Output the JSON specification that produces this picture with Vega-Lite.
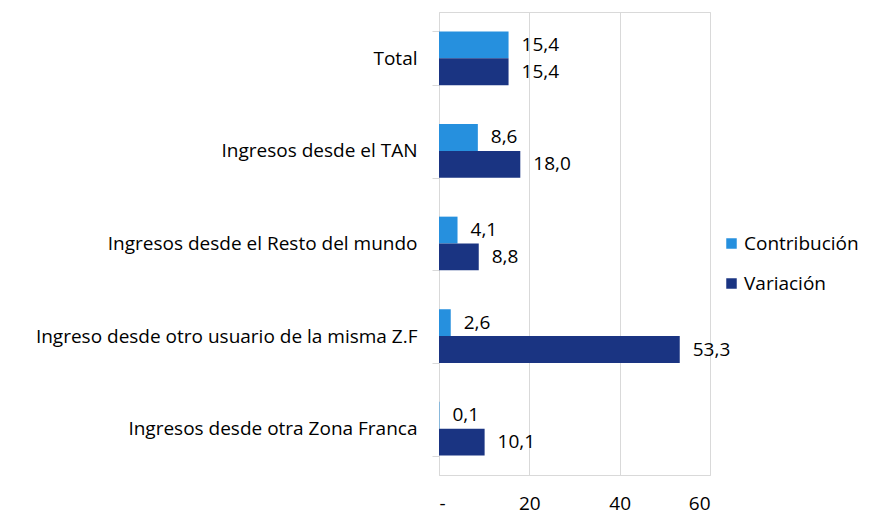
{
  "$schema": "https://vega.github.io/schema/vega-lite/v6.json",
  "width": 271,
  "height": 463,
  "autosize": {"type": "none"},
  "padding": {"left": 439, "top": 12, "right": 164, "bottom": 41},
  "background": "white",
  "config": {
    "font": "Open Sans",
    "view": {"stroke": "#d9d9d9", "strokeWidth": 1}
  },
  "data": {
    "values": [
      {"cat": "Total", "serie": "Contribución", "valor": 15.4},
      {"cat": "Total", "serie": "Variación", "valor": 15.4},
      {"cat": "Ingresos desde el TAN", "serie": "Contribución", "valor": 8.6},
      {"cat": "Ingresos desde el TAN", "serie": "Variación", "valor": 18.0},
      {"cat": "Ingresos desde el Resto del mundo", "serie": "Contribución", "valor": 4.1},
      {"cat": "Ingresos desde el Resto del mundo", "serie": "Variación", "valor": 8.8},
      {"cat": "Ingreso desde otro usuario de la misma Z.F", "serie": "Contribución", "valor": 2.6},
      {"cat": "Ingreso desde otro usuario de la misma Z.F", "serie": "Variación", "valor": 53.3},
      {"cat": "Ingresos desde otra Zona Franca", "serie": "Contribución", "valor": 0.1},
      {"cat": "Ingresos desde otra Zona Franca", "serie": "Variación", "valor": 10.1}
    ]
  },
  "encoding": {
    "y": {
      "field": "cat",
      "type": "nominal",
      "sort": null,
      "scale": {"paddingInner": 0.42, "paddingOuter": 0.21},
      "axis": {
        "title": null,
        "tickBand": "extent",
        "domainColor": "#d9d9d9",
        "tickColor": "#d9d9d9",
        "tickSize": 7,
        "labelPadding": 15,
        "labelFontSize": 19,
        "labelColor": "#000000",
        "labelLimit": 440
      }
    },
    "yOffset": {"field": "serie", "type": "nominal", "sort": ["Contribución", "Variación"], "scale": {"paddingInner": 0, "paddingOuter": 0}},
    "x": {
      "field": "valor",
      "type": "quantitative",
      "scale": {"domain": [0, 60], "nice": false},
      "axis": {
        "title": null,
        "values": [0, 20, 40, 60],
        "labelExpr": "datum.value == 0 ? '-' : datum.label",
        "ticks": false,
        "domain": false,
        "grid": true,
        "gridColor": "#d9d9d9",
        "labelPadding": 19,
        "labelFontSize": 19,
        "labelColor": "#000000"
      }
    }
  },
  "layer": [
    {
      "mark": {"type": "bar"},
      "encoding": {
        "color": {
          "field": "serie",
          "type": "nominal",
          "sort": ["Contribución", "Variación"],
          "scale": {"domain": ["Contribución", "Variación"], "range": ["#2690de", "#1a3482"]},
          "legend": {
            "title": null,
            "orient": "none",
            "legendX": 283,
            "legendY": 222,
            "symbolType": "square",
            "symbolSize": 110,
            "symbolStrokeWidth": 0,
            "labelFontSize": 19,
            "labelColor": "#000000",
            "rowPadding": 20,
            "labelOffset": 3
          }
        }
      }
    },
    {
      "mark": {
        "type": "text",
        "align": "left",
        "dx": 13,
        "fontSize": 19,
        "color": "#000000",
        "text": {"expr": "replace(format(datum.valor, '.1f'), '.', ',')"}
      }
    }
  ]
}
